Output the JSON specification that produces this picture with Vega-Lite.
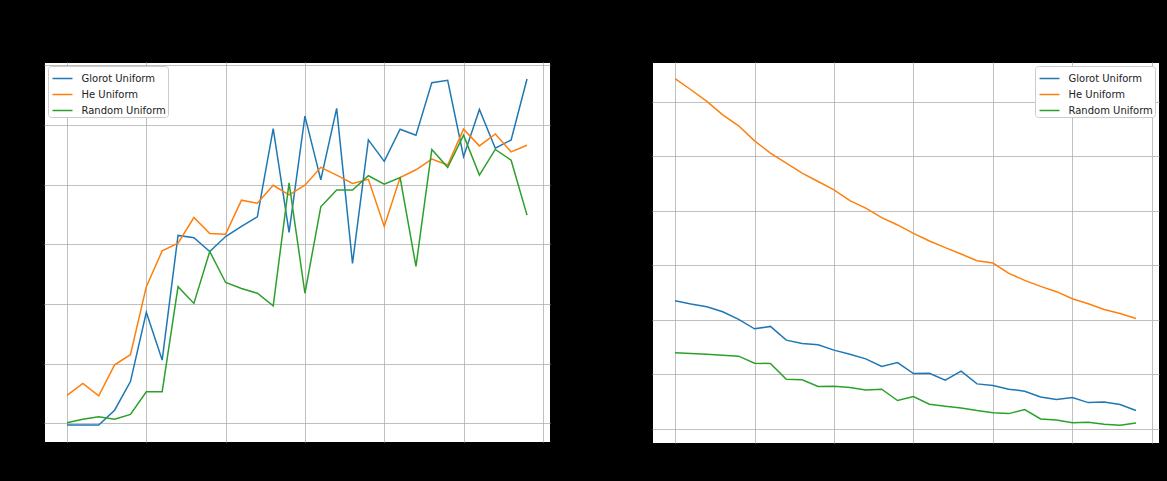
{
  "$schema": "https://vega.github.io/schema/vega-lite/v6.json",
  "background": "black",
  "padding": {"left": 43, "top": 61, "right": 7, "bottom": 39},
  "spacing": 102,
  "bounds": "flush",
  "config": {
    "view": {"fill": "white", "stroke": "black"},
    "axis": {
      "grid": true,
      "gridColor": "#b0b0b0",
      "gridWidth": 0.8,
      "labels": false,
      "ticks": false,
      "domain": false,
      "title": null
    },
    "legend": {
      "title": null,
      "symbolType": "stroke",
      "symbolSize": 400,
      "symbolStrokeWidth": 1.5,
      "symbolOffset": 2,
      "labelFont": "DejaVu Sans",
      "labelFontSize": 10,
      "labelColor": "#222222",
      "labelOffset": 8,
      "rowPadding": -2,
      "padding": 1.5,
      "fillColor": "white",
      "strokeColor": "#cccccc",
      "cornerRadius": 3,
      "offset": 4
    }
  },
  "data": {
    "values": [
      {"epoch": 0, "init": "Glorot Uniform", "acc": 0.097, "loss": 2.175},
      {"epoch": 1, "init": "Glorot Uniform", "acc": 0.097, "loss": 2.144},
      {"epoch": 2, "init": "Glorot Uniform", "acc": 0.097, "loss": 2.120},
      {"epoch": 3, "init": "Glorot Uniform", "acc": 0.122, "loss": 2.074},
      {"epoch": 4, "init": "Glorot Uniform", "acc": 0.170, "loss": 2.003},
      {"epoch": 5, "init": "Glorot Uniform", "acc": 0.286, "loss": 1.917},
      {"epoch": 6, "init": "Glorot Uniform", "acc": 0.206, "loss": 1.939},
      {"epoch": 7, "init": "Glorot Uniform", "acc": 0.415, "loss": 1.813},
      {"epoch": 8, "init": "Glorot Uniform", "acc": 0.411, "loss": 1.782},
      {"epoch": 9, "init": "Glorot Uniform", "acc": 0.388, "loss": 1.770},
      {"epoch": 10, "init": "Glorot Uniform", "acc": 0.413, "loss": 1.721},
      {"epoch": 11, "init": "Glorot Uniform", "acc": 0.430, "loss": 1.684},
      {"epoch": 12, "init": "Glorot Uniform", "acc": 0.446, "loss": 1.641},
      {"epoch": 13, "init": "Glorot Uniform", "acc": 0.594, "loss": 1.571},
      {"epoch": 14, "init": "Glorot Uniform", "acc": 0.420, "loss": 1.607},
      {"epoch": 15, "init": "Glorot Uniform", "acc": 0.615, "loss": 1.506},
      {"epoch": 16, "init": "Glorot Uniform", "acc": 0.508, "loss": 1.509},
      {"epoch": 17, "init": "Glorot Uniform", "acc": 0.628, "loss": 1.445},
      {"epoch": 18, "init": "Glorot Uniform", "acc": 0.368, "loss": 1.528},
      {"epoch": 19, "init": "Glorot Uniform", "acc": 0.575, "loss": 1.411},
      {"epoch": 20, "init": "Glorot Uniform", "acc": 0.539, "loss": 1.396},
      {"epoch": 21, "init": "Glorot Uniform", "acc": 0.593, "loss": 1.362},
      {"epoch": 22, "init": "Glorot Uniform", "acc": 0.583, "loss": 1.344},
      {"epoch": 23, "init": "Glorot Uniform", "acc": 0.671, "loss": 1.291},
      {"epoch": 24, "init": "Glorot Uniform", "acc": 0.675, "loss": 1.267},
      {"epoch": 25, "init": "Glorot Uniform", "acc": 0.547, "loss": 1.285},
      {"epoch": 26, "init": "Glorot Uniform", "acc": 0.626, "loss": 1.239},
      {"epoch": 27, "init": "Glorot Uniform", "acc": 0.561, "loss": 1.245},
      {"epoch": 28, "init": "Glorot Uniform", "acc": 0.575, "loss": 1.221},
      {"epoch": 29, "init": "Glorot Uniform", "acc": 0.677, "loss": 1.166},
      {"epoch": 0, "init": "He Uniform", "acc": 0.147, "loss": 4.215},
      {"epoch": 1, "init": "He Uniform", "acc": 0.167, "loss": 4.113},
      {"epoch": 2, "init": "He Uniform", "acc": 0.146, "loss": 4.006},
      {"epoch": 3, "init": "He Uniform", "acc": 0.198, "loss": 3.883},
      {"epoch": 4, "init": "He Uniform", "acc": 0.215, "loss": 3.782},
      {"epoch": 5, "init": "He Uniform", "acc": 0.329, "loss": 3.644},
      {"epoch": 6, "init": "He Uniform", "acc": 0.389, "loss": 3.531},
      {"epoch": 7, "init": "He Uniform", "acc": 0.402, "loss": 3.439},
      {"epoch": 8, "init": "He Uniform", "acc": 0.445, "loss": 3.347},
      {"epoch": 9, "init": "He Uniform", "acc": 0.418, "loss": 3.270},
      {"epoch": 10, "init": "He Uniform", "acc": 0.417, "loss": 3.193},
      {"epoch": 11, "init": "He Uniform", "acc": 0.474, "loss": 3.095},
      {"epoch": 12, "init": "He Uniform", "acc": 0.469, "loss": 3.025},
      {"epoch": 13, "init": "He Uniform", "acc": 0.499, "loss": 2.939},
      {"epoch": 14, "init": "He Uniform", "acc": 0.483, "loss": 2.871},
      {"epoch": 15, "init": "He Uniform", "acc": 0.499, "loss": 2.794},
      {"epoch": 16, "init": "He Uniform", "acc": 0.529, "loss": 2.724},
      {"epoch": 17, "init": "He Uniform", "acc": 0.516, "loss": 2.663},
      {"epoch": 18, "init": "He Uniform", "acc": 0.502, "loss": 2.604},
      {"epoch": 19, "init": "He Uniform", "acc": 0.509, "loss": 2.543},
      {"epoch": 20, "init": "He Uniform", "acc": 0.430, "loss": 2.521},
      {"epoch": 21, "init": "He Uniform", "acc": 0.512, "loss": 2.426},
      {"epoch": 22, "init": "He Uniform", "acc": 0.525, "loss": 2.362},
      {"epoch": 23, "init": "He Uniform", "acc": 0.543, "loss": 2.307},
      {"epoch": 24, "init": "He Uniform", "acc": 0.533, "loss": 2.258},
      {"epoch": 25, "init": "He Uniform", "acc": 0.593, "loss": 2.193},
      {"epoch": 26, "init": "He Uniform", "acc": 0.565, "loss": 2.147},
      {"epoch": 27, "init": "He Uniform", "acc": 0.585, "loss": 2.095},
      {"epoch": 28, "init": "He Uniform", "acc": 0.555, "loss": 2.058},
      {"epoch": 29, "init": "He Uniform", "acc": 0.566, "loss": 2.012},
      {"epoch": 0, "init": "Random Uniform", "acc": 0.101, "loss": 1.696},
      {"epoch": 1, "init": "Random Uniform", "acc": 0.107, "loss": 1.690},
      {"epoch": 2, "init": "Random Uniform", "acc": 0.111, "loss": 1.684},
      {"epoch": 3, "init": "Random Uniform", "acc": 0.107, "loss": 1.675},
      {"epoch": 4, "init": "Random Uniform", "acc": 0.115, "loss": 1.666},
      {"epoch": 5, "init": "Random Uniform", "acc": 0.153, "loss": 1.601},
      {"epoch": 6, "init": "Random Uniform", "acc": 0.153, "loss": 1.598},
      {"epoch": 7, "init": "Random Uniform", "acc": 0.329, "loss": 1.454},
      {"epoch": 8, "init": "Random Uniform", "acc": 0.301, "loss": 1.448},
      {"epoch": 9, "init": "Random Uniform", "acc": 0.388, "loss": 1.387},
      {"epoch": 10, "init": "Random Uniform", "acc": 0.336, "loss": 1.390},
      {"epoch": 11, "init": "Random Uniform", "acc": 0.326, "loss": 1.377},
      {"epoch": 12, "init": "Random Uniform", "acc": 0.318, "loss": 1.356},
      {"epoch": 13, "init": "Random Uniform", "acc": 0.297, "loss": 1.362},
      {"epoch": 14, "init": "Random Uniform", "acc": 0.503, "loss": 1.258},
      {"epoch": 15, "init": "Random Uniform", "acc": 0.318, "loss": 1.294},
      {"epoch": 16, "init": "Random Uniform", "acc": 0.463, "loss": 1.224},
      {"epoch": 17, "init": "Random Uniform", "acc": 0.491, "loss": 1.206},
      {"epoch": 18, "init": "Random Uniform", "acc": 0.491, "loss": 1.190},
      {"epoch": 19, "init": "Random Uniform", "acc": 0.515, "loss": 1.166},
      {"epoch": 20, "init": "Random Uniform", "acc": 0.501, "loss": 1.147},
      {"epoch": 21, "init": "Random Uniform", "acc": 0.512, "loss": 1.138},
      {"epoch": 22, "init": "Random Uniform", "acc": 0.363, "loss": 1.175},
      {"epoch": 23, "init": "Random Uniform", "acc": 0.559, "loss": 1.089},
      {"epoch": 24, "init": "Random Uniform", "acc": 0.529, "loss": 1.080},
      {"epoch": 25, "init": "Random Uniform", "acc": 0.583, "loss": 1.055},
      {"epoch": 26, "init": "Random Uniform", "acc": 0.516, "loss": 1.058},
      {"epoch": 27, "init": "Random Uniform", "acc": 0.559, "loss": 1.040},
      {"epoch": 28, "init": "Random Uniform", "acc": 0.541, "loss": 1.031},
      {"epoch": 29, "init": "Random Uniform", "acc": 0.449, "loss": 1.052}
    ]
  },
  "resolve": {"scale": {"color": "independent"}, "legend": {"color": "independent"}},
  "hconcat": [
    {
      "width": 506,
      "height": 380,
      "mark": {"type": "line", "strokeWidth": 1.5},
      "encoding": {
        "x": {
          "field": "epoch",
          "type": "quantitative",
          "scale": {"domain": [-1.45, 30.45], "nice": false, "zero": false},
          "axis": {"values": [0, 5, 10, 15, 20, 25, 30]}
        },
        "y": {
          "field": "acc",
          "type": "quantitative",
          "scale": {"domain": [0.0687, 0.7056], "nice": false, "zero": false},
          "axis": {"values": [0.1, 0.2, 0.3, 0.4, 0.5, 0.6, 0.7]}
        },
        "color": {
          "field": "init",
          "type": "nominal",
          "scale": {
            "domain": ["Glorot Uniform", "He Uniform", "Random Uniform"],
            "range": ["#1f77b4", "#ff7f0e", "#2ca02c"]
          },
          "legend": {"orient": "top-left"}
        }
      }
    },
    {
      "width": 507,
      "height": 381,
      "mark": {"type": "line", "strokeWidth": 1.5},
      "encoding": {
        "x": {
          "field": "epoch",
          "type": "quantitative",
          "scale": {"domain": [-1.45, 30.45], "nice": false, "zero": false},
          "axis": {"values": [0, 5, 10, 15, 20, 25, 30]}
        },
        "y": {
          "field": "loss",
          "type": "quantitative",
          "scale": {"domain": [0.868, 4.368], "nice": false, "zero": false},
          "axis": {"values": [1.0, 1.5, 2.0, 2.5, 3.0, 3.5, 4.0]}
        },
        "color": {
          "field": "init",
          "type": "nominal",
          "scale": {
            "domain": ["Glorot Uniform", "He Uniform", "Random Uniform"],
            "range": ["#1f77b4", "#ff7f0e", "#2ca02c"]
          },
          "legend": {"orient": "top-right"}
        }
      }
    }
  ]
}
